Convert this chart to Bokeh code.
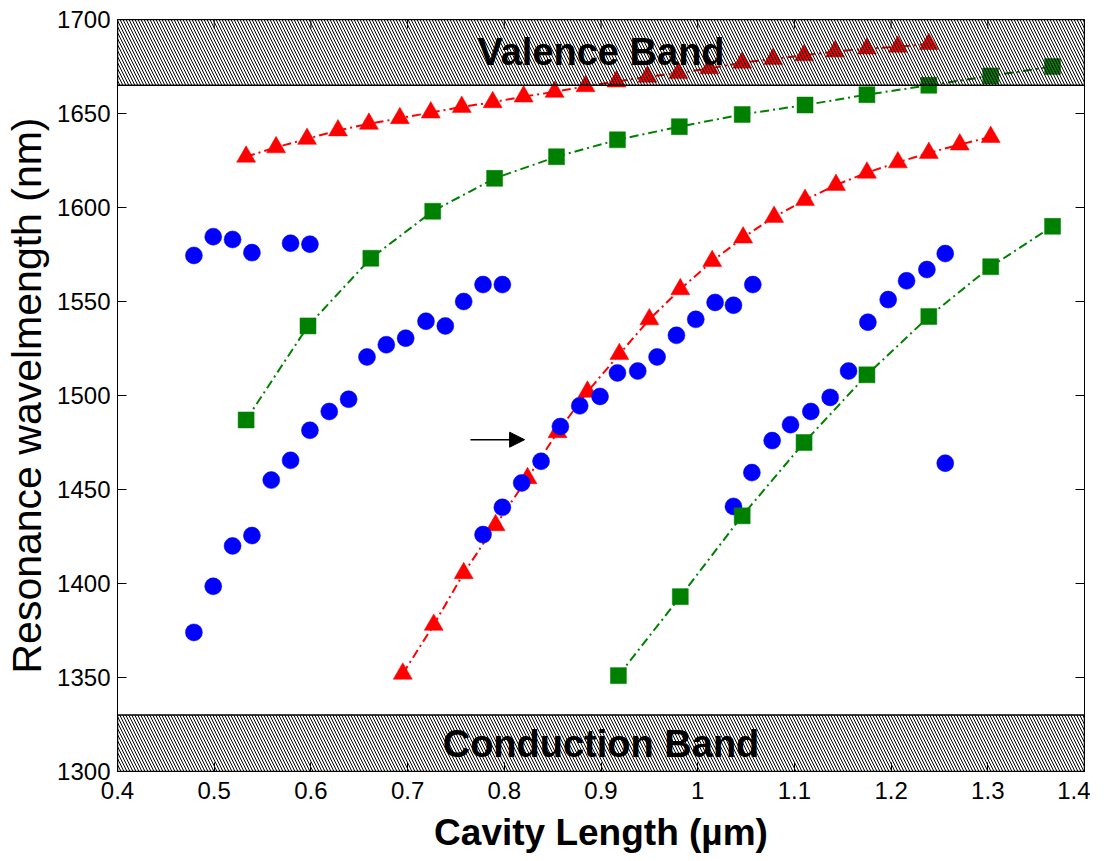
import math
from bokeh.plotting import figure
from bokeh.models import Range1d, FixedTicker, Arrow, NormalHead, Label
from bokeh.embed import file_html
from bokeh.resources import INLINE

# ---------------- data ----------------
red_top_x = [0.533, 0.564, 0.596, 0.628, 0.660, 0.692, 0.724, 0.756, 0.788, 0.820, 0.852, 0.884,
             0.916, 0.948, 0.980, 1.012, 1.046, 1.078, 1.110, 1.142, 1.175, 1.207, 1.239]
red_top_y = [1627, 1632, 1636.5, 1641, 1644.5, 1647.5, 1650.5, 1653.5, 1656, 1659, 1661.5, 1664.5,
             1667, 1669.5, 1671.5, 1674, 1677, 1679, 1681, 1683, 1684.5, 1685.5, 1687]

red_low_x = [0.695, 0.727, 0.758, 0.791, 0.824, 0.855, 0.886, 0.919, 0.950, 0.982, 1.015, 1.047,
             1.079, 1.111, 1.143, 1.175, 1.207, 1.239, 1.271, 1.303]
red_low_y = [1352, 1378, 1405.5, 1431, 1456, 1480.5, 1502, 1522, 1540.5, 1556.5, 1571.5, 1584,
             1595, 1604, 1612, 1618.5, 1624, 1629, 1633.5, 1637.5]

green_top_x = [0.533, 0.597, 0.662, 0.726, 0.790, 0.854, 0.917, 0.981, 1.046, 1.111, 1.175, 1.239, 1.303, 1.367]
green_top_y = [1487, 1537, 1573, 1598, 1615.5, 1627, 1636, 1643, 1649.5, 1654.5, 1660, 1665, 1670, 1675]

green_low_x = [0.918, 0.982, 1.046, 1.110, 1.175, 1.239, 1.303, 1.367]
green_low_y = [1351, 1393, 1436, 1475, 1511, 1542, 1568.5, 1590]

blue_a_x = [0.479, 0.499, 0.519, 0.539, 0.579, 0.599]
blue_a_y = [1574.5, 1584.5, 1583, 1576, 1581, 1580.5]

blue_b_x = [0.479, 0.499, 0.519, 0.539, 0.559, 0.579, 0.599, 0.619, 0.639, 0.658, 0.678, 0.698,
            0.719, 0.739, 0.758, 0.778, 0.798]
blue_b_y = [1374, 1398.5, 1420, 1425.5, 1455, 1465.5, 1481.5, 1491.5, 1498, 1520.5, 1527, 1530.5,
            1539.5, 1537, 1550, 1559, 1559]

blue_c_x = [0.778, 0.798, 0.818, 0.838, 0.858, 0.878, 0.899, 0.917, 0.938, 0.958, 0.978, 0.998,
            1.018, 1.037, 1.057]
blue_c_y = [1426, 1440.5, 1453.5, 1465, 1483.5, 1494.5, 1499.5, 1512, 1513, 1520.5, 1532, 1540.5,
            1549.5, 1548, 1559]

blue_d_x = [1.037, 1.056, 1.077, 1.096, 1.117, 1.137, 1.156, 1.176, 1.197, 1.216, 1.237, 1.256, 1.256]
blue_d_y = [1441, 1459, 1476, 1484.5, 1491.5, 1499, 1513, 1539, 1551, 1561, 1567, 1575.5, 1464]

x_ticks = [0.4, 0.5, 0.6, 0.7, 0.8, 0.9, 1.0, 1.1, 1.2, 1.3, 1.4]
x_tick_labels = ["0.4", "0.5", "0.6", "0.7", "0.8", "0.9", "1", "1.1", "1.2", "1.3", "1.4"]
y_ticks = [1300, 1350, 1400, 1450, 1500, 1550, 1600, 1650, 1700]

x_lim = (0.4, 1.4)
y_lim = (1300, 1700)
valence_band = (1665, 1700)
conduction_band = (1300, 1330)
band_names = ["Valence Band", "Conduction Band"]

# ---------------- figure ----------------
FONT = "Liberation Sans"
p = figure(width=1090, height=855, x_range=Range1d(*x_lim), y_range=Range1d(*y_lim),
           output_backend="svg", toolbar_location=None,
           min_border_left=117, min_border_right=6, min_border_top=19, min_border_bottom=83)
p.xgrid.visible = False
p.ygrid.visible = False
p.outline_line_color = "black"
p.outline_line_width = 1
p.background_fill_color = "white"
p.border_fill_color = "white"

p.xaxis.ticker = FixedTicker(ticks=x_ticks)
p.xaxis.major_label_overrides = {t: l for t, l in zip(x_ticks, x_tick_labels)}
p.yaxis.ticker = FixedTicker(ticks=y_ticks)

for ax in (p.xaxis[0], p.yaxis[0]):
    ax.major_tick_in = 9
    ax.major_tick_out = 0
    ax.minor_tick_line_color = None
    ax.axis_line_color = "black"
    ax.major_tick_line_color = "black"
    ax.major_label_text_font = FONT
    ax.major_label_text_font_size = "24px"
    ax.major_label_text_color = "black"
    ax.axis_label_text_font = FONT
    ax.axis_label_text_color = "black"

p.xaxis.axis_label = "Cavity Length (µm)"
p.xaxis.axis_label_text_font_size = "37px"
p.xaxis.axis_label_text_font_style = "bold"
p.xaxis.major_label_standoff = 10
p.xaxis.axis_label_standoff = 10

p.yaxis.axis_label = "Resonance wavelmength (nm)"
p.yaxis.axis_label_text_font_size = "41px"
p.yaxis.axis_label_text_font_style = "normal"
p.yaxis.major_label_standoff = 7
p.yaxis.axis_label_standoff = 4

# mirrored inward ticks on top and right edges
p.ray(x=x_ticks, y=[y_lim[1]] * len(x_ticks), length=9, length_units="screen",
      angle=-math.pi / 2, line_color="black", line_width=1)
p.ray(x=[x_lim[1]] * len(y_ticks), y=y_ticks, length=9, length_units="screen",
      angle=math.pi, line_color="black", line_width=1)

DASH = "9 4 2 4"
RED, GREEN, BLUE = "#ff0000", "#008000", "#0000ff"

# red series
for xs, ys in ((red_top_x, red_top_y), (red_low_x, red_low_y)):
    p.line(xs, ys, line_color=RED, line_width=2, line_dash=DASH)
    p.scatter(xs, ys, marker="triangle", size=19, fill_color=RED, line_color=RED, line_width=0.5)

# blue points
for xs, ys in ((blue_a_x, blue_a_y), (blue_b_x, blue_b_y), (blue_c_x, blue_c_y), (blue_d_x, blue_d_y)):
    p.scatter(xs, ys, marker="circle", size=17, fill_color=BLUE, line_color=BLUE, line_width=0.5)

# green series
for xs, ys in ((green_top_x, green_top_y), (green_low_x, green_low_y)):
    p.line(xs, ys, line_color=GREEN, line_width=2, line_dash=DASH)
    p.scatter(xs, ys, marker="square", size=16, fill_color=GREEN, line_color=GREEN, line_width=0.5)

# band labels
p.add_layout(Label(x=0.9, y=1682.5, text=band_names[0], text_align="center", text_baseline="middle",
                   text_font=FONT, text_font_size="38px", text_font_style="bold", text_color="black"))
p.add_layout(Label(x=0.9, y=1314.5, text=band_names[1], text_align="center", text_baseline="middle",
                   text_font=FONT, text_font_size="38px", text_font_style="bold", text_color="black"))

# hatched bands (drawn over data)
for lo, hi in (valence_band, conduction_band):
    p.quad(left=x_lim[0], right=x_lim[1], bottom=lo, top=hi, fill_alpha=0, hatch_pattern="\\",
           hatch_scale=6, hatch_weight=1, hatch_color="black", line_color="black", line_width=1.5)

# arrow annotation
p.add_layout(Arrow(x_start=0.765, y_start=1476.5, x_end=0.821, y_end=1476.5, line_width=1.5,
                   line_color="black",
                   end=NormalHead(size=15, fill_color="black", line_color="black", line_width=1)))

open("out.html", "w").write(file_html(p, INLINE))
